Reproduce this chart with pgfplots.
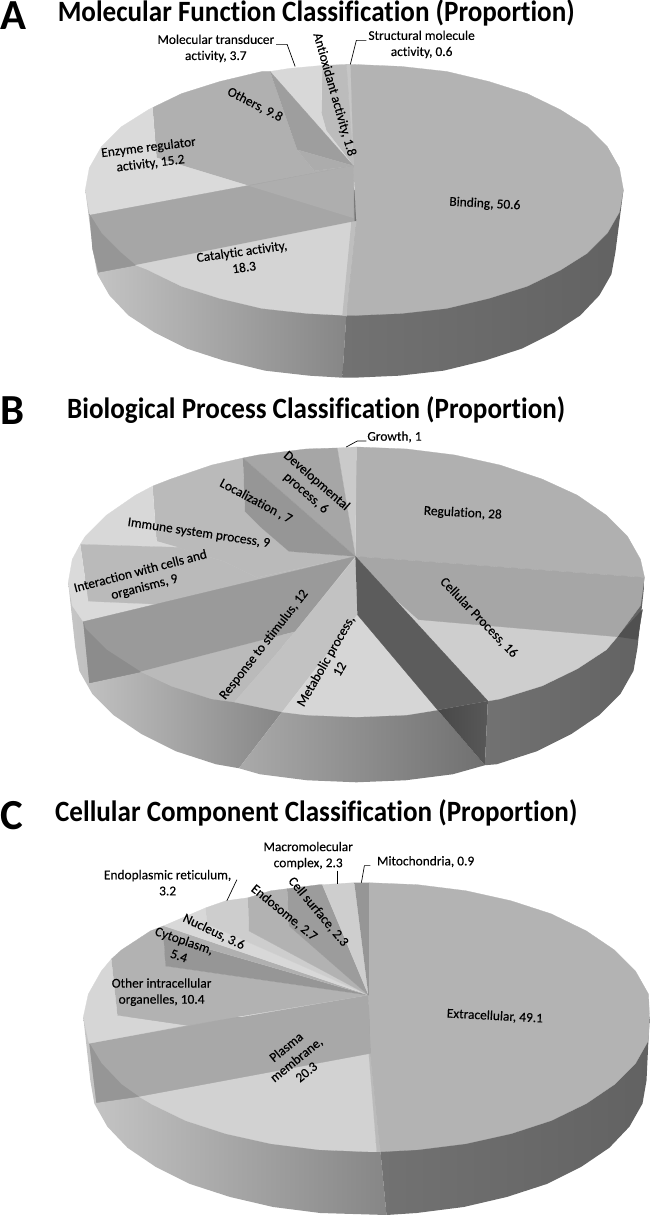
\documentclass[border=0pt]{standalone}
\usepackage{pgfplots}
\pgfplotsset{compat=1.18}
\usepackage{fontspec}
\setmainfont{Carlito}[Ligatures=NoCommon]
\newfontfamily\labf{Carlito}[Ligatures=NoCommon,FakeBold=0.25]

% one wedge, gray level 0-255
\newcommand{\slice}[2]{\addplot[fill={rgb,255:red,#1;green,#1;blue,#1},draw={rgb,255:red,#1;green,#1;blue,#1},line width=0.2pt] coordinates {#2};}
\newcommand{\sidep}[3]{\addplot[left color=#1,right color=#2,draw=none] coordinates {#3};}
\newcommand{\ttl}[3]{\node[font=\fontsize{22}{24}\selectfont\bfseries,inner sep=0pt,xscale=#3] at (axis cs:#1) {#2};}
\newcommand{\letter}[2]{\node[font=\fontsize{32}{36}\selectfont\bfseries,inner sep=0pt] at (axis cs:#1) {#2};}
\newcommand{\lab}[3]{\node[font=\fontsize{10}{12}\selectfont\labf,align=center,inner sep=0pt,rotate=#2] at (axis cs:#1) {#3};}
\newcommand{\lead}[1]{\addplot[black,line width=0.5pt] coordinates {#1};}

\definecolor{sa}{RGB}{198,198,198}
\definecolor{sb}{RGB}{134,134,134}
\definecolor{sc}{RGB}{114,114,114}
\definecolor{sd}{RGB}{98,98,98}
\definecolor{se}{RGB}{170,170,170}
\definecolor{sf}{RGB}{112,112,112}
\definecolor{sg}{RGB}{72,72,72}
\definecolor{sh}{RGB}{88,88,88}

\begin{document}
\begin{tikzpicture}
\begin{axis}[
  scale only axis, width=487.5pt, height=911.25pt,
  xmin=0, xmax=650, ymin=0, ymax=1215, y dir=reverse,
  hide axis, clip=false]

%% ---- A ----
\sidep{sa}{sb}{(87,192)(95,254)(99,276)(111,297)(130,317)(156,334)(188,350)(225,362)(266,372)(310,377)(343,379)(347,317)(347,192)}
\sidep{sc}{sd}{(347,192)(347,317)(343,379)(355,379)(400,377)(444,372)(485,362)(522,350)(554,334)(580,317)(599,297)(611,276)(615,254)(623,192)}
\slice{179}{(355,67)(402,69)(447,74)(489,84)(527,96)(560,112)(587,129)(607,149)(619,170)(623,192)(619,214)(607,235)(587,255)(560,272)(527,288)(489,300)(447,310)(402,315)(355,317)(347,317)(357,223)(354,168)(347,67)}
\slice{198}{(347,67)(351,67)(354,168)}
\slice{188}{(323,68)(347,67)(354,168)(327,133)(322,115)}
\slice{216}{(271,74)(290,71)(323,68)(322,115)(327,133)(354,168)}
\slice{176}{(154,110)(183,96)(221,84)(263,74)(271,74)(298,152)(315,173)(354,168)(250,188)(158,160)}
\slice{158}{(271,74)(354,168)(298,152)}
\slice{172}{(298,152)(354,168)(315,173)}
\slice{218}{(154,110)(150,112)(123,129)(103,149)(91,170)(87,192)(91,214)(92,217)(250,188)(158,160)}
\slice{166}{(92,217)(354,168)(355,224)(137,267)(100,274)}
\slice{174}{(250,188)(354,168)(354,220)}
\slice{150}{(91,216)(103,235)(123,255)(137,267)(100,274)(94,250)}
\slice{212}{(137,267)(352,224)(347,317)(308,315)(263,310)(221,300)(183,288)(150,272)}
\slice{190}{(352,224)(357,223)(347,317)(343,317)}

\letter{15,18}{A}
\ttl{317,16}{Molecular Function Classification (Proportion)}{0.92}
\lab{217,51}{0}{Molecular transducer\\activity, 3.7}
\lead{(277,47)(288,47)(296,69)}
\lab{335,97}{-74}{Antioxidant activity, 1.8}
\lab{422,47}{0}{Structural molecule\\activity, 0.6}
\lead{(367,43)(357,43)(351,67)}
\lab{256,107}{-27}{Others, 9.8}
\lab{151,158}{7}{Enzyme regulator\\activity, 15.2}
\lab{244,261}{8}{Catalytic activity,\\18.3}
\lab{485,206}{-3}{Binding, 50.6}

%% ---- B ----
\sidep{sa}{sb}{(70,583)(77,648)(81,671)(94,694)(115,715)(143,734)(177,751)(217,764)(240,768)(283,712)(283,583)}
\sidep{se}{sf}{(283,712)(240,768)(261,774)(308,780)(357,782)(406,780)(453,774)(485,765)(438,710)}
\sidep{sg}{sh}{(438,710)(488,701)(485,765)}
\sidep{sc}{sd}{(488,583)(488,701)(485,765)(497,764)(537,751)(571,734)(599,715)(620,694)(633,671)(637,648)(644,583)}
\slice{80}{(617,637)(642,610)(637,640)}
\slice{176}{(357,448)(407,450)(455,456)(500,466)(542,480)(577,496)(606,516)(627,537)(640,560)(644,578)(356,557)}
\slice{202}{(338,449)(357,448)(356,557)}
\slice{166}{(244,459)(259,456)(307,450)(338,449)(356,557)}
\slice{186}{(154,487)(172,480)(213,466)(244,459)(246,512)(262,528)(290,552)(356,557)(258,578)(225,562)(158,542)}
\slice{150}{(244,459)(356,557)(290,552)(262,528)(246,512)}
\slice{216}{(154,487)(137,496)(108,516)(87,537)(82,545)(179,548)(158,542)}
\slice{186}{(82,545)(179,548)(225,562)(258,578)(356,557)(160,605)(90,602)}
\slice{218}{(82,545)(74,560)(70,583)(74,606)(85,622)(160,605)(90,602)}
\slice{154}{(85,622)(356,557)(296,632)(142,672)(91,683)}
\slice{140}{(85,622)(87,629)(108,650)(142,672)(91,683)}
\slice{186}{(142,672)(296,632)(235,702)(213,699)(172,686)}
\slice{194}{(296,632)(356,558)(358,615)(283,712)(235,702)}
\slice{214}{(358,615)(438,710)(407,715)(357,717)(307,715)(283,712)}
\slice{206}{(380,590)(617,637)(606,650)(577,669)(542,686)(500,699)(488,701)}
\slice{166}{(356,557)(644,578)(640,606)(617,637)(419,620)(385,590)}
\slice{92}{(356,557)(488,701)(438,710)(358,615)}

\letter{14,412}{B}
\ttl{317,411}{Biological Process Classification (Proportion)}{0.92}
\lab{395,438}{0}{Growth, 1}
\lead{(367,442)(358,442)(347,448)}
\lab{312,488}{-41}{Developmental\\process, 6}
\lab{257,502}{-28}{Localization , 7}
\lab{463,514}{-3}{Regulation, 28}
\lab{200,534}{-8.5}{Immune system process, 9}
\lab{144,580}{14.6}{Interaction with cells and\\organisms, 9}
\lab{265,645}{52}{Response to stimulus, 12}
\lab{333,665}{60}{Metabolic process,\\12}
\lab{479,618}{-46}{Cellular Process, 16}

%% ---- C ----
\sidep{sa}{sb}{(85,1016)(92,1079)(96,1102)(109,1125)(129,1146)(157,1165)(191,1182)(231,1195)(274,1205)(321,1211)(387,1213)(381,1150)(381,1016)}
\sidep{sc}{sd}{(381,1016)(381,1150)(387,1213)(417,1211)(464,1205)(507,1195)(547,1182)(581,1165)(609,1146)(629,1125)(642,1102)(646,1079)(649,1016)}
\slice{179}{(369,882)(418,884)(466,890)(511,900)(551,913)(586,930)(614,949)(635,970)(648,993)(649,1016)(648,1039)(635,1062)(614,1083)(586,1102)(551,1119)(511,1132)(466,1142)(418,1148)(381,1150)(371,1052)(369,994)}
\slice{186}{(367,1052)(371,1052)(381,1150)(377,1150)}
\slice{210}{(140,1095)(369,1052)(377,1150)(369,1150)(320,1148)(272,1142)(227,1132)(187,1119)(152,1102)}
\slice{168}{(91,1042)(369,994)(371,1052)(140,1095)(98,1101)}
\slice{150}{(91,1042)(103,1062)(123,1083)(140,1095)(98,1101)}
\slice{214}{(113,958)(103,970)(90,993)(85,1016)(90,1039)(91,1042)(188,1024)(119,1014)}
\slice{178}{(113,958)(123,949)(152,930)(165,935)(167,965)(369,994)(188,1024)(119,1014)}
\slice{150}{(165,935)(167,965)(369,994)}
\slice{176}{(152,930)(165,925)(369,994)(165,935)}
\slice{216}{(165,925)(207,907)(208,923)(369,994)}
\slice{205}{(207,907)(227,900)(249,897)(250,930)(369,994)(208,923)}
\slice{178}{(249,897)(272,890)(288,888)(290,925)(369,994)(250,930)}
\slice{156}{(288,888)(320,884)(323,884)(369,994)(290,925)}
\slice{206}{(323,884)(355,882)(369,994)}
\slice{150}{(355,882)(369,882)(369,994)}

\letter{14,815}{C}
\ttl{317,812}{Cellular Component Classification (Proportion)}{0.92}
\lab{309,855}{0}{Macromolecular\\complex, 2.3}
\lead{(338,870)(338,883)}
\lab{426,861}{0}{Mitochondria, 0.9}
\lead{(371,865)(365,865)(362,882)}
\lab{169,882}{0}{Endoplasmic reticulum,\\3.2}
\lead{(238,879)(228,900)}
\lab{319,911}{-50}{Cell surface, 2.3}
\lab{285,912}{-39}{Endosome, 2.7}
\lab{215,931}{-25.5}{Nucleus, 3.6}
\lab{183,947}{-19}{Cytoplasm,\\5.4}
\lab{163,991}{0}{Other intracellular\\organelles, 10.4}
\lab{297,1058}{39}{Plasma\\membrane,\\20.3}
\lab{495,1015}{-3}{Extracellular, 49.1}
\end{axis}
\end{tikzpicture}
\end{document}
